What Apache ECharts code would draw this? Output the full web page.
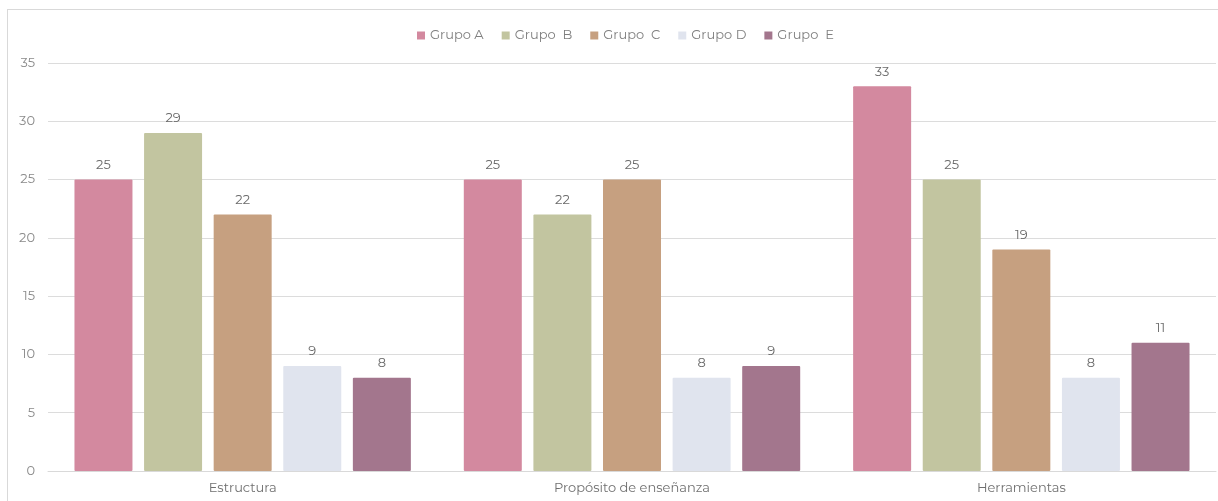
<!DOCTYPE html>
<html><head><meta charset="utf-8">
<script src="https://cdn.jsdelivr.net/npm/echarts@6/dist/echarts.min.js"></script>
<style>
html,body{margin:0;padding:0;background:#fff;}
#wrap{position:absolute;left:7px;top:9px;width:1211px;height:492px;border-top:1px solid #d9d9d9;border-left:1px solid #d9d9d9;}
#c{position:absolute;left:0;top:0;width:1218px;height:501px;}
</style></head>
<body>
<div id="wrap"></div>
<div id="c"></div>
<script>
const categories = ['Estructura', 'Propósito de enseñanza', 'Herramientas'];
const seriesNames = ['Grupo A', 'Grupo  B', 'Grupo  C', 'Grupo D', 'Grupo  E'];
const grupoA = [25, 25, 33];
const grupoB = [29, 22, 25];
const grupoC = [22, 25, 19];
const grupoD = [9, 8, 8];
const grupoE = [8, 9, 11];
const yTicks = [0, 5, 10, 15, 20, 25, 30, 35];
const colors = ['#d3899f', '#c2c5a0', '#c6a080', '#e0e4ee', '#a3768d'];

const values = [grupoA, grupoB, grupoC, grupoD, grupoE];
const chart = echarts.init(document.getElementById('c'), null, {renderer: 'canvas'});
const font = 'Montserrat, "Open Sans", "Noto Sans", sans-serif';
chart.setOption({
  animation: false,
  textStyle: {fontFamily: font},
  legend: {
    top: 24, left: 412,
    itemWidth: 8, itemHeight: 8, itemGap: 18,
    icon: 'rect',
    textStyle: {color: '#7f7f7f', fontSize: 13, fontFamily: font},
    data: seriesNames
  },
  grid: {left: 48, right: 2, top: 63, bottom: 30, containLabel: false},
  xAxis: {
    type: 'category', data: categories,
    axisLine: {lineStyle: {color: '#d9d9d9'}},
    axisTick: {show: false},
    axisLabel: {color: '#6f6f6f', fontSize: 13, margin: 11, fontFamily: font}
  },
  yAxis: {
    type: 'value', min: yTicks[0], max: yTicks[yTicks.length - 1], interval: 5,
    axisLine: {show: false}, axisTick: {show: false},
    axisLabel: {color: '#8a8a8a', fontSize: 13, margin: 13, fontFamily: font},
    splitLine: {lineStyle: {color: '#dcdcdc'}}
  },
  series: values.map((v, i) => ({
    name: seriesNames[i], type: 'bar', data: v,
    barWidth: 58, barGap: '20%',
    itemStyle: {color: colors[i], borderRadius: 1},
    label: {show: true, position: 'top', distance: 8, color: '#6a6a6a', fontSize: 13, fontFamily: font}
  }))
});
</script>
</body></html>
